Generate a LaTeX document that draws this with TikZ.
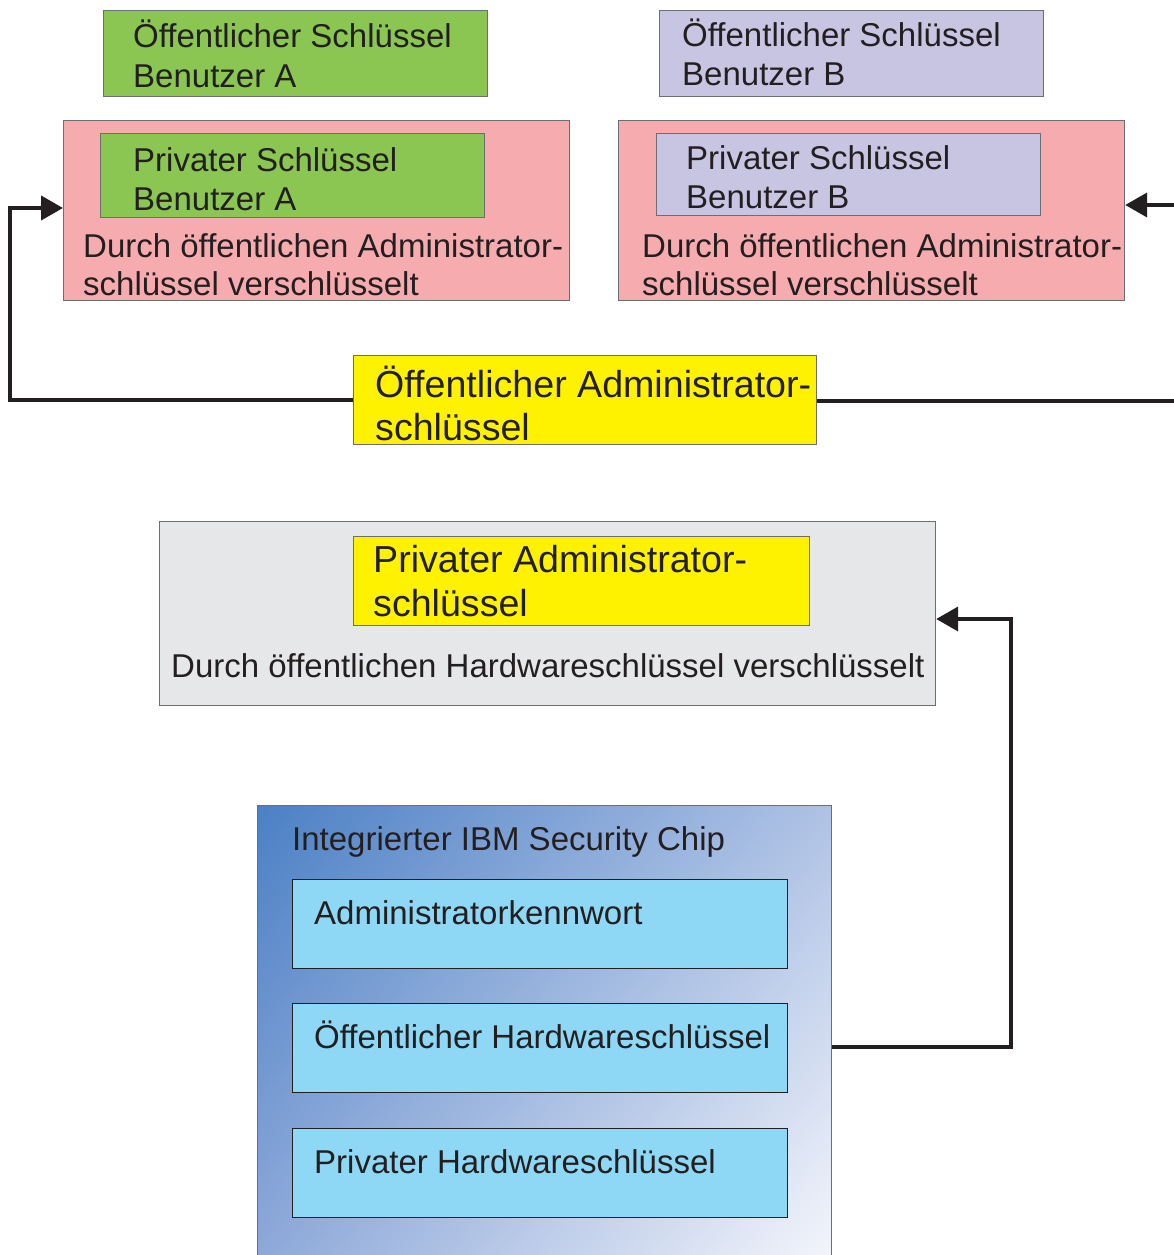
\documentclass[tikz,border=0pt]{standalone}
\usepackage{fontspec}
\setmainfont{Liberation Sans}
\usetikzlibrary{arrows.meta,shadings}

\definecolor{ink}{HTML}{231F20}
\definecolor{frame}{HTML}{6D6E71}
\definecolor{keygreen}{HTML}{8BC653}
\definecolor{keylav}{HTML}{C8C5E2}
\definecolor{encpink}{HTML}{F6ABAE}
\definecolor{keyyellow}{HTML}{FFF200}
\definecolor{encgrey}{HTML}{E6E7E8}
\definecolor{slotcyan}{HTML}{8ED8F6}
\definecolor{chipA}{HTML}{4B80C5}
\definecolor{chipB}{HTML}{AFC2E5}
\definecolor{chipC}{HTML}{90AADA}
\definecolor{chipD}{HTML}{F6F7FC}

\tikzset{
  box/.style={draw=frame, line width=1.2pt, anchor=north west, inner sep=0pt},
  txt/.style={anchor=base west, inner sep=0pt, text=ink, font=\fontsize{33}{39}\selectfont},
  bigtxt/.style={anchor=base west, inner sep=0pt, text=ink, font=\fontsize{37.6}{43}\selectfont},
  link/.style={draw=ink, line width=4pt},
  tip/.style={-{Triangle[length=22pt,width=24pt]}},
}

\begin{document}
\begin{tikzpicture}[x=1pt,y=-1pt]
\useasboundingbox (0,0) rectangle (1173,1255);

% public user keys
\node[box, fill=keygreen, minimum width=384pt, minimum height=86pt] (pubA) at (103,10) {};
\node[txt] (pubA1) at (133,48) {Öffentlicher Schlüssel};
\node[txt] (pubA2) at (133,87) {Benutzer A};

\node[box, fill=keylav, minimum width=384pt, minimum height=86pt] (pubB) at (659,10) {};
\node[txt] (pubB1) at (682,47) {Öffentlicher Schlüssel};
\node[txt] (pubB2) at (682,85) {Benutzer B};

% encrypted private user keys
\node[box, fill=encpink, minimum width=506pt, minimum height=180pt] (encA) at (63,120) {};
\node[box, fill=keygreen, minimum width=384pt, minimum height=84pt] (privA) at (100,133) {};
\node[txt] (privA1) at (133,171) {Privater Schlüssel};
\node[txt] (privA2) at (133,210) {Benutzer A};
\node[txt] (encA1) at (83,257) {Durch öffentlichen Administrator-};
\node[txt] (encA2) at (83,295) {schlüssel verschlüsselt};

\node[box, fill=encpink, minimum width=506pt, minimum height=180pt] (encB) at (618,120) {};
\node[box, fill=keylav, minimum width=384pt, minimum height=82pt] (privB) at (656,133) {};
\node[txt] (privB1) at (686,169) {Privater Schlüssel};
\node[txt] (privB2) at (686,208) {Benutzer B};
\node[txt] (encB1) at (642,257) {Durch öffentlichen Administrator-};
\node[txt] (encB2) at (642,295) {schlüssel verschlüsselt};

% public administrator key
\node[box, fill=keyyellow, minimum width=463pt, minimum height=89pt] (pubAdm) at (353,355) {};
\node[bigtxt] (pubAdm1) at (375,397) {Öffentlicher Administrator-};
\node[bigtxt] (pubAdm2) at (375,440) {schlüssel};

% encrypted private administrator key
\node[box, fill=encgrey, minimum width=776pt, minimum height=184pt] (encAdm) at (159,521) {};
\node[box, fill=keyyellow, minimum width=456pt, minimum height=89pt] (privAdm) at (353,536) {};
\node[bigtxt] (privAdm1) at (373,572) {Privater Administrator-};
\node[bigtxt] (privAdm2) at (373,616) {schlüssel};
\node[txt] (encAdm1) at (171,677) {Durch öffentlichen Hardwareschlüssel verschlüsselt};

% security chip
\shade[upper left=chipA, upper right=chipB, lower left=chipC, lower right=chipD]
  (257,805) rectangle (831,1275);
\node[box, draw=frame, minimum width=574pt, minimum height=470pt] (chip) at (257,805) {};
\node[txt] (chip1) at (292,850) {Integrierter IBM Security Chip};
\node[box, draw=ink, fill=slotcyan, minimum width=495pt, minimum height=89pt] (pwd) at (292,879) {};
\node[txt] (pwd1) at (314,924) {Administratorkennwort};
\node[box, draw=ink, fill=slotcyan, minimum width=495pt, minimum height=89pt] (pubHw) at (292,1003) {};
\node[txt] (pubHw1) at (314,1048) {Öffentlicher Hardwareschlüssel};
\node[box, draw=ink, fill=slotcyan, minimum width=495pt, minimum height=89pt] (privHw) at (292,1128) {};
\node[txt] (privHw1) at (314,1173) {Privater Hardwareschlüssel};

% connectors
\coordinate (westBend) at (10,0);
\coordinate (offRight) at (1190,0);
\coordinate (hwBend) at (1011,0);

\draw[link, tip] (pubAdm.west |- 0,400) -| (westBend |- 0,208) -- (encA.west |- 0,208);
\draw[link] (pubAdm.east |- 0,401) -- (offRight |- 0,401);
\draw[link, tip] (offRight |- 0,205) -- (encB.east |- 0,205);
\draw[link, tip] (chip.east |- 0,1047) -| (hwBend |- 0,619) -- (encAdm.east |- 0,619);
\end{tikzpicture}
\end{document}
